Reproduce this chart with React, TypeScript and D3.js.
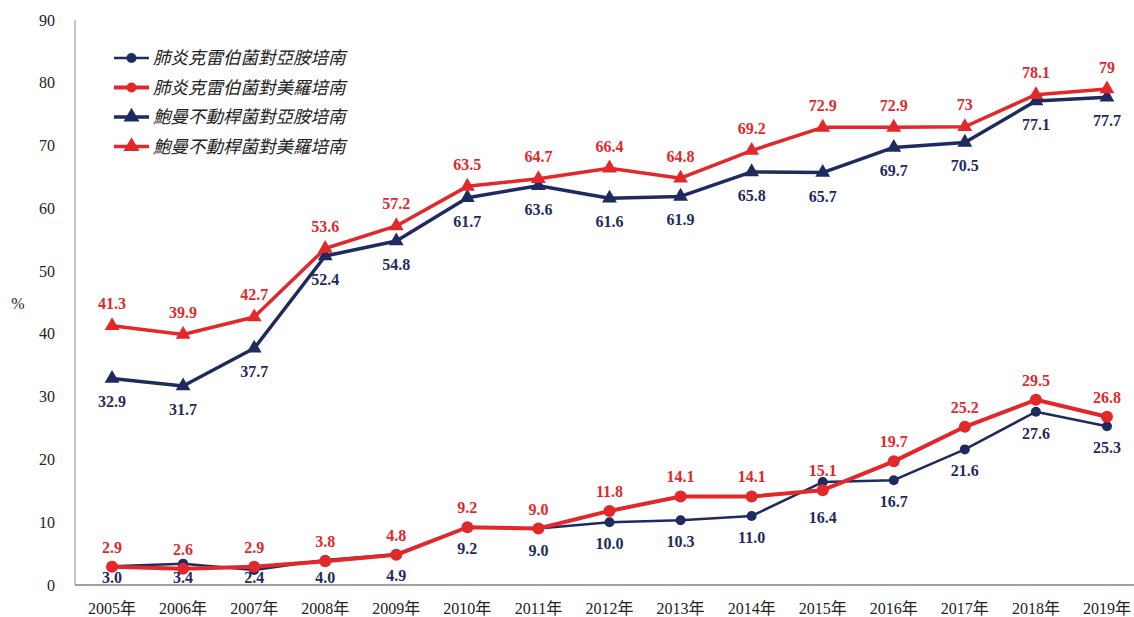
import React from "react";
import * as d3 from "d3";

const years = ["2005年","2006年","2007年","2008年","2009年","2010年","2011年","2012年","2013年","2014年","2015年","2016年","2017年","2018年","2019年"];
const kpImipenem = [3.0, 3.4, 2.4, 4.0, 4.9, 9.2, 9.0, 10.0, 10.3, 11.0, 16.4, 16.7, 21.6, 27.6, 25.3];
const kpMeropenem = [2.9, 2.6, 2.9, 3.8, 4.8, 9.2, 9.0, 11.8, 14.1, 14.1, 15.1, 19.7, 25.2, 29.5, 26.8];
const abImipenem = [32.9, 31.7, 37.7, 52.4, 54.8, 61.7, 63.6, 61.6, 61.9, 65.8, 65.7, 69.7, 70.5, 77.1, 77.7];
const abMeropenem = [41.3, 39.9, 42.7, 53.6, 57.2, 63.5, 64.7, 66.4, 64.8, 69.2, 72.9, 72.9, 73, 78.1, 79];
const yTicks = [0, 10, 20, 30, 40, 50, 60, 70, 80, 90];
const seriesNames = ["肺炎克雷伯菌對亞胺培南", "肺炎克雷伯菌對美羅培南", "鮑曼不動桿菌對亞胺培南", "鮑曼不動桿菌對美羅培南"];

const NAVY = "#1f2a5e";
const RED = "#e2282b";
const W = 1134, H = 617;

export default function App() {
  const x = d3.scaleBand<string>().domain(years).range([76.5, 1142.5]);
  const y = d3.scaleLinear().domain([0, 90]).range([585, 20]);
  const cx = (i: number) => (x(years[i]) as number) + x.bandwidth() / 2;
  const line = d3.line<number>().x((_, i) => cx(i)).y((d) => y(d));
  const tri = (s: number) => d3.symbol().type(d3.symbolTriangle).size(s)() as string;

  const series = [
    { name: seriesNames[0], data: kpImipenem, color: NAVY, width: 2.5, marker: "circle", r: 5, above: false, fmt: (v: number) => v.toFixed(1) },
    { name: seriesNames[1], data: kpMeropenem, color: RED, width: 4, marker: "circle", r: 6, above: true, fmt: (v: number) => v.toFixed(1) },
    { name: seriesNames[2], data: abImipenem, color: NAVY, width: 3.5, marker: "tri", r: 95, above: false, fmt: (v: number) => String(v) },
    { name: seriesNames[3], data: abMeropenem, color: RED, width: 3.5, marker: "tri", r: 95, above: true, fmt: (v: number) => String(v) },
  ];
  const nudge: Record<string, number> = { "0-10": 14 };

  const font = "'Liberation Serif', 'Times New Roman', 'Noto Sans CJK TC', serif";

  return (
    <div style={{ position: "absolute", left: 0, top: 0 }}>
      <svg width={W} height={H} style={{ display: "block", fontFamily: font }}>
        <rect width={W} height={H} fill="#fff" />
        <line x1={75} x2={75} y1={20} y2={585} stroke="#a8a8a8" strokeWidth={1.3} />
        <line x1={75} x2={W} y1={585} y2={585} stroke="#808080" strokeWidth={1.6} />
        {yTicks.map((t) => (
          <text key={t} x={55} y={y(t) + 5.5} textAnchor="end" fontSize={16} fill="#222">{t}</text>
        ))}
        <text x={18} y={309} textAnchor="middle" fontSize={16} fill="#222">%</text>
        {years.map((yr, i) => (
          <text key={yr} x={cx(i)} y={614} textAnchor="middle" fontSize={16} fill="#222">{yr}</text>
        ))}
        {series.map((s, si) => (
          <g key={si}>
            <path d={line(s.data) as string} fill="none" stroke={s.color} strokeWidth={s.width} strokeLinejoin="round" />
            {s.data.map((v, i) =>
              s.marker === "circle" ? (
                <circle key={i} cx={cx(i)} cy={y(v)} r={s.r} fill={s.color} />
              ) : (
                <path key={i} d={tri(s.r)} transform={`translate(${cx(i)},${y(v)})`} fill={s.color} />
              )
            )}
          </g>
        ))}
        {series.map((s, si) => (
          <g key={"l" + si}>
            {s.data.map((v, i) => {
              let ly: number;
              if (s.above) ly = y(v) - (s.marker === "circle" ? 14 : 16.5);
              else {
                ly = y(v) + (s.marker === "circle" ? 27 : 29) + (nudge[`${si}-${i}`] || 0);
                if (s.marker === "circle") ly = Math.min(ly, 583);
              }
              return (
                <text key={i} x={cx(i)} y={ly} textAnchor="middle" fontSize={16} fontWeight="bold" fill={s.color}>{s.fmt(v)}</text>
              );
            })}
          </g>
        ))}
        {series.map((s, si) => {
          const ly = 58 + si * 29.5;
          return (
            <g key={"lg" + si}>
              <line x1={114} x2={149} y1={ly} y2={ly} stroke={s.color} strokeWidth={s.width} />
              {s.marker === "circle" ? (
                <circle cx={131.5} cy={ly} r={5} fill={s.color} />
              ) : (
                <path d={tri(110)} transform={`translate(131.5,${ly})`} fill={s.color} />
              )}
              <text x={153} y={ly + 6} fontSize={17.5} fontStyle="italic" fill="#222">{s.name}</text>
            </g>
          );
        })}
      </svg>
    </div>
  );
}
